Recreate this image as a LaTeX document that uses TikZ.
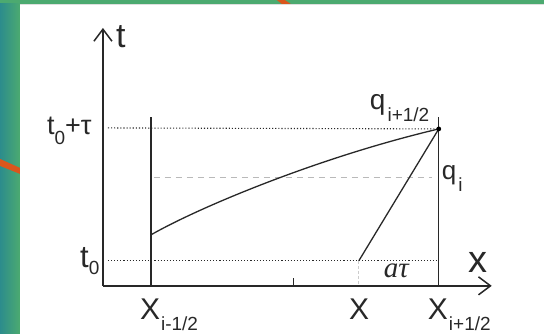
\documentclass[tikz,border=0pt]{standalone}
\usepackage{fontspec}
\setmainfont{Liberation Sans}
\newfontfamily\serifgr{Liberation Serif}
\usetikzlibrary{arrows.meta}
\definecolor{slidegreen}{RGB}{76,170,112}
\definecolor{slideteal}{RGB}{44,140,140}
\definecolor{slideorange}{RGB}{218,86,28}
\definecolor{inkgray}{RGB}{40,40,40}
\newcommand{\lowsub}[2][12pt]{\raisebox{-#1}{\fontsize{19}{19}\selectfont #2}}

\begin{document}
\begin{tikzpicture}[
          x=1pt, y=-1pt,
          axis/.style={-{Straight Barb[length=12pt,width=18pt,line width=1.5pt]},
                       line width=1.4pt, inkgray},
          bound/.style={line width=1.3pt, inkgray},
          ray/.style={line width=1.3pt, inkgray},
          level/.style={line width=1.1pt, inkgray, dash pattern=on 1.1pt off 2pt},
          mid/.style={line width=1pt, gray!55, dash pattern=on 6pt off 5pt},
          lbl/.style={inner sep=0pt, anchor=base west, text=inkgray},
          big/.style={font=\fontsize{30}{30}\selectfont}
        ]
          % slide background
          \fill[slidegreen] (0,0) rectangle (544,334);
          \shade[left color=slideteal, right color=slidegreen] (0,4) rectangle (20,334);
          \fill[slideorange] (0,159) -- (20,168) -- (20,174) -- (0,166) -- cycle;
          \fill[slideorange] (277,0) -- (285,0) -- (291,4) -- (282,4) -- cycle;
          \fill[white] (20,4) rectangle (544,334);
          \draw[gray!25, line width=0.6pt] (20,4.5) -- (544,4.5);

          \coordinate (O) at (103,286);
          \coordinate (tend) at (103,28);
          \coordinate (xend) at (492,286);
          \coordinate (Lb) at (151,286);
          \coordinate (Lt) at (151,117);
          \coordinate (Rb) at (439,286);
          \coordinate (Rt) at (439,117);
          \coordinate (P) at (439,129);
          \coordinate (Q) at (359,261);
          \coordinate (Qb) at (359,286);
          \coordinate (S) at (151,235);
          \coordinate (T) at (294,286);
          \coordinate (Tt) at (294,278);

          \draw[level] (108,128) -- (P);
          \draw[level] (108,261) -- (439,261);
          \draw[mid] (154,178) -- (432,178);
          \draw[mid, gray!40, dash pattern=on 3pt off 2pt] (Q) -- (Qb);

          \draw[axis] (O) -- (tend);
          \draw[axis] (O) -- (xend);
          \draw[bound] (Lb) -- (Lt);
          \draw[bound] (Rb) -- (Rt);
          \draw[bound] (T) -- (Tt);

          \draw[ray] (S) .. controls (200,207) and (320,157) .. (P);
          \draw[ray] (Q) -- (P);
          \fill[black] (P) circle (2.4pt);

          \node[lbl, font=\fontsize{34}{34}\selectfont] (tlab) at (116,48) {t};
          \node[lbl, font=\fontsize{38}{38}\selectfont] (xlab) at (469,273) {x};
          \node[lbl, font=\fontsize{27}{27}\selectfont] (ttau) at (47,135)
            {t\lowsub[10pt]{0}+τ};
          \node[lbl, font=\fontsize{31}{31}\selectfont] (tzero) at (80,268)
            {t\lowsub[7pt]{0}};
          \node[lbl, font=\fontsize{28}{28}\selectfont] (qhalf) at (370,110)
            {q\hspace{2pt}\lowsub{i+1/2}};
          \node[lbl, font=\fontsize{26}{26}\selectfont] (qi) at (442,180)
            {q\hspace{2pt}\lowsub{i}};
          \node[lbl, font=\fontsize{29}{29}\serifgr\itshape] (atau) at (384,278) {aτ};
          \node[lbl, big] (xleft) at (140,320) {X\hspace{1pt}\lowsub[11pt]{i-1/2}};
          \node[lbl, big] (xmid) at (349,320) {X};
          \node[lbl, big] (xright) at (428,320) {X\hspace{1pt}\lowsub[11pt]{i+1/2}};
        \end{tikzpicture}
\end{document}
